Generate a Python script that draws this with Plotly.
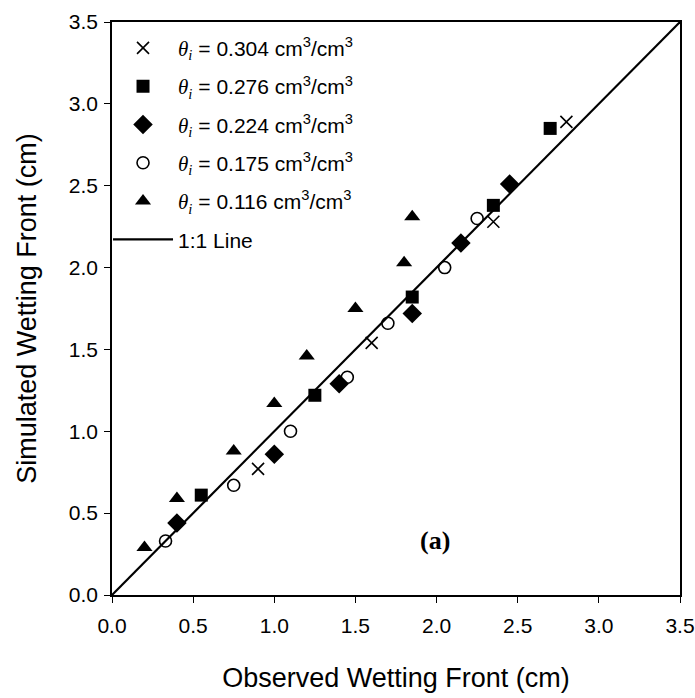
import plotly.graph_objects as go

# Data
obs_304 = [0.90, 1.60, 2.35, 2.80]
sim_304 = [0.77, 1.54, 2.28, 2.89]

obs_276 = [0.55, 1.25, 1.85, 2.35, 2.70]
sim_276 = [0.61, 1.22, 1.82, 2.38, 2.85]

obs_224 = [0.40, 1.00, 1.40, 1.85, 2.15, 2.45]
sim_224 = [0.44, 0.86, 1.29, 1.72, 2.15, 2.51]

obs_175 = [0.33, 0.75, 1.10, 1.45, 1.70, 2.05, 2.25]
sim_175 = [0.33, 0.67, 1.00, 1.33, 1.66, 2.00, 2.30]

obs_116 = [0.20, 0.40, 0.75, 1.00, 1.20, 1.50, 1.80, 1.85]
sim_116 = [0.29, 0.59, 0.88, 1.17, 1.46, 1.75, 2.03, 2.31]

line_x = [0.0, 3.5]
line_y = [0.0, 3.5]

tick_vals = [0.0, 0.5, 1.0, 1.5, 2.0, 2.5, 3.0, 3.5]
tick_text = ["0.0", "0.5", "1.0", "1.5", "2.0", "2.5", "3.0", "3.5"]

SANS = "Liberation Sans, Arial"

def lab(v):
    return ("<span style='font-family:Liberation Serif'><i>θ<sub>i</sub></i></span> = "
            + v + " cm<sup>3</sup>/cm<sup>3</sup>")

fig = go.Figure()
fig.add_trace(go.Scatter(x=obs_304, y=sim_304, mode="markers", name=lab("0.304"),
                         legendgroup="a",
                         marker=dict(symbol="x-thin", size=12, color="black",
                                     line=dict(color="black", width=1.6))))
fig.add_trace(go.Scatter(x=obs_276, y=sim_276, mode="markers", name=lab("0.276"),
                         legendgroup="b",
                         marker=dict(symbol="square", size=13, color="black")))
fig.add_trace(go.Scatter(x=obs_224, y=sim_224, mode="markers", name=lab("0.224"),
                         legendgroup="c",
                         marker=dict(symbol="diamond", size=15, color="black")))
fig.add_trace(go.Scatter(x=obs_175, y=sim_175, mode="markers", name=lab("0.175"),
                         legendgroup="d",
                         marker=dict(symbol="circle-open", size=12, color="black",
                                     line=dict(color="black", width=1.6))))
fig.add_trace(go.Scatter(x=obs_116, y=sim_116, mode="markers", name=lab("0.116"),
                         legendgroup="e",
                         marker=dict(symbol="triangle-up", size=14, color="black")))
fig.add_trace(go.Scatter(x=line_x, y=line_y, mode="lines", name="1:1 Line",
                         legendgroup="f",
                         line=dict(color="black", width=2.2)))

axis_common = dict(
    range=[0, 3.5], tickvals=tick_vals, ticktext=tick_text, automargin=False,
    showgrid=False, zeroline=False, showline=True, linecolor="black", linewidth=1.5,
    mirror=True, ticks="outside", ticklen=6, tickwidth=1.2, tickcolor="black",
    tickfont=dict(family=SANS, size=21, color="black"),
)

fig.update_layout(
    width=695, height=698,
    margin=dict(l=112, r=15, t=22, b=103),
    paper_bgcolor="white", plot_bgcolor="white",
    showlegend=True,
    legend=dict(x=-0.007, y=0.99, xanchor="left", yanchor="top",
                bgcolor="rgba(0,0,0,0)", tracegroupgap=8,
                traceorder="grouped", itemwidth=60,
                font=dict(family=SANS, size=21, color="black")),
    xaxis=dict(**axis_common, ticklabelstandoff=5,
               title=dict(text="Observed Wetting Front (cm)", standoff=32,
                          font=dict(family=SANS, size=27, color="black"))),
    yaxis=dict(**axis_common, ticklabelstandoff=2,
               title=dict(text="Simulated Wetting Front (cm)", standoff=24,
                          font=dict(family=SANS, size=27, color="black"))),
    annotations=[dict(x=1.99, y=0.33, xref="x", yref="y", text="<b>(a)</b>",
                      showarrow=False,
                      font=dict(family="Liberation Serif, Times New Roman", size=26, color="black"))],
)

fig.write_html("out.html")
